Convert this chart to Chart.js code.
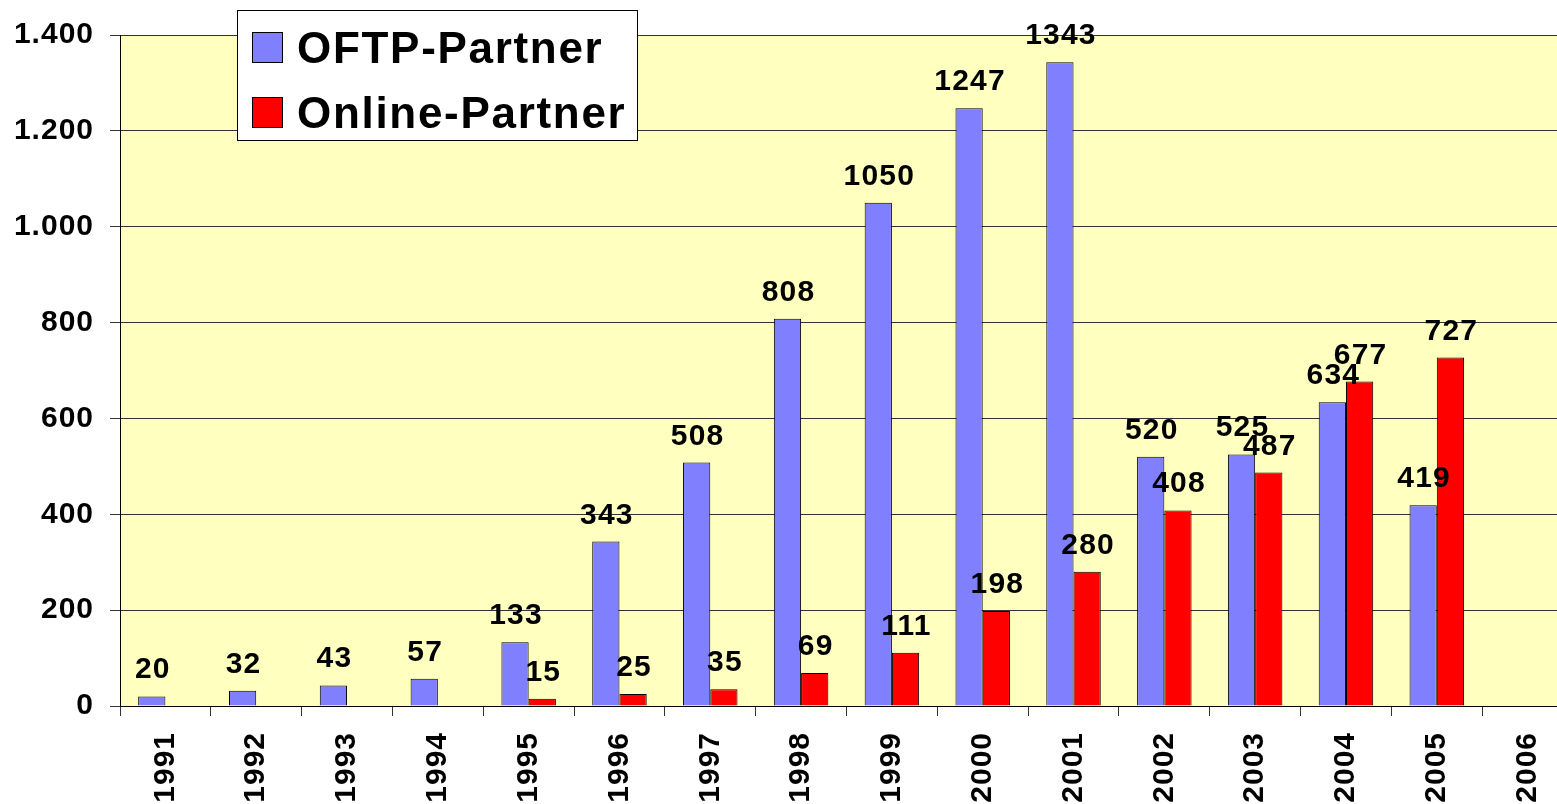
<!DOCTYPE html>
<html>
<head>
<meta charset="utf-8">
<script src="https://cdn.jsdelivr.net/npm/chart.js@4"></script>
<style>
  html, body { margin: 0; padding: 0; background: #fff; overflow: hidden; }
  #wrap { width: 1557px; height: 804px; overflow: hidden; }
  /* the original plot runs past the right edge of the picture */
  #inner { width: 1573px; height: 804px; }
</style>
</head>
<body>
<div id="wrap"><div id="inner"><canvas id="partnerChart"></canvas></div></div>
<script>
// categories and series
const years = ["1991", "1992", "1993", "1994", "1995", "1996", "1997", "1998", "1999", "2000", "2001", "2002", "2003", "2004", "2005", "2006"];
const oftpPartner = [20, 32, 43, 57, 133, 343, 508, 808, 1050, 1247, 1343, 520, 525, 634, 419, null];
const onlinePartner = [null, null, null, null, 15, 25, 35, 69, 111, 198, 280, 408, 487, 677, 727, null];
const seriesNames = ["OFTP-Partner", "Online-Partner"];
const seriesColors = ["#8080FF", "#FF0000"];

const FONT = "Arial, 'Liberation Sans', sans-serif";

function formatThousands(v) {
    return String(v).replace(/\B(?=(\d{3})+(?!\d))/g, ".");
}

// yellow plot area, slightly wider lettering like the original (only while drawing)
const plotBackground = {
    id: "plotBackground",
    beforeDraw(chart) {
        const { ctx, chartArea } = chart;
        ctx.save();
        ctx.fillStyle = "#FFFFC0";
        ctx.fillRect(chartArea.left, chartArea.top, chartArea.right - chartArea.left, chartArea.bottom - chartArea.top);
        ctx.restore();
        ctx.letterSpacing = "1px";
    },
    afterDraw(chart) {
        chart.ctx.letterSpacing = "0px";
    }
};

// value labels above the bars
const valueLabels = {
    id: "valueLabels",
    afterDatasetsDraw(chart) {
        const ctx = chart.ctx;
        ctx.save();
        ctx.letterSpacing = "1.2px";
        ctx.font = "bold 30px " + FONT;
        ctx.fillStyle = "#000";
        ctx.textAlign = "center";
        ctx.textBaseline = "alphabetic";
        chart.data.datasets.forEach((ds, i) => {
            const meta = chart.getDatasetMeta(i);
            meta.data.forEach((bar, j) => {
                const v = ds.data[j];
                if (v === null || v === undefined) return;
                ctx.fillText(String(v), bar.x + 1, bar.y - 18);
            });
        });
        ctx.restore();
    }
};

// boxed legend in the upper left of the plot
const boxLegend = {
    id: "boxLegend",
    afterDraw(chart) {
        const ctx = chart.ctx;
        const x = 237, y = 10, w = 400, h = 130;
        ctx.save();
        ctx.fillStyle = "#fff";
        ctx.fillRect(x, y, w, h);
        ctx.strokeStyle = "#000";
        ctx.lineWidth = 1;
        ctx.strokeRect(x + 0.5, y + 0.5, w, h);
        ctx.letterSpacing = "1.7px";
        ctx.font = "bold 44px " + FONT;
        ctx.textBaseline = "alphabetic";
        chart.data.datasets.forEach((ds, i) => {
            const rowY = y + 22 + i * 65;
            ctx.fillStyle = ds.backgroundColor;
            ctx.fillRect(x + 15, rowY, 30, 30);
            ctx.strokeStyle = "#000";
            ctx.strokeRect(x + 15.5, rowY + 0.5, 30, 30);
            ctx.fillStyle = "#000";
            ctx.fillText(ds.label, x + 60, rowY + 31);
        });
        ctx.restore();
    }
};

const ctxPartner = document.getElementById("partnerChart").getContext("2d");
const partnerChart = new Chart(ctxPartner, {
    type: 'bar',
    data: {
        labels: years,
        datasets: [
            {
                label: seriesNames[0],
                data: oftpPartner,
                backgroundColor: seriesColors[0],
                borderColor: "#000",
                borderWidth: 1
            },
            {
                label: seriesNames[1],
                data: onlinePartner,
                backgroundColor: seriesColors[1],
                borderColor: "#000",
                borderWidth: 1
            }
        ]
    },
    plugins: [plotBackground, valueLabels, boxLegend],
    options: {
        responsive: true,
        maintainAspectRatio: false,
        animation: false,
        layout: { padding: { top: 35, right: 0, left: 0, bottom: 0 } },
        datasets: {
            bar: { categoryPercentage: 0.6, barPercentage: 1.0 }
        },
        plugins: {
            legend: { display: false },
            tooltip: { enabled: false }
        },
        scales: {
            x: {
                afterFit(scale) {
                    scale.height = 98;
                    scale.paddingLeft = 0;
                    scale.paddingRight = 0;
                },
                grid: {
                    offset: true,
                    drawOnChartArea: false,
                    drawTicks: true,
                    tickLength: 10,
                    color: "#333"
                },
                border: { color: "#000", width: 1 },
                ticks: {
                    minRotation: 90,
                    maxRotation: 90,
                    autoSkip: false,
                    padding: 16,
                    color: "#000",
                    font: { family: FONT, size: 30, weight: "bold" }
                }
            },
            y: {
                min: 0,
                max: 1400,
                afterFit(scale) { scale.width = 120; },
                grid: {
                    color: "#333",
                    tickLength: 10,
                    lineWidth: 1
                },
                border: { color: "#000", width: 1 },
                ticks: {
                    stepSize: 200,
                    padding: 16,
                    color: "#000",
                    font: { family: FONT, size: 30, weight: "bold" },
                    callback: (v) => formatThousands(v)
                }
            }
        }
    }
});
</script>
</body>
</html>
